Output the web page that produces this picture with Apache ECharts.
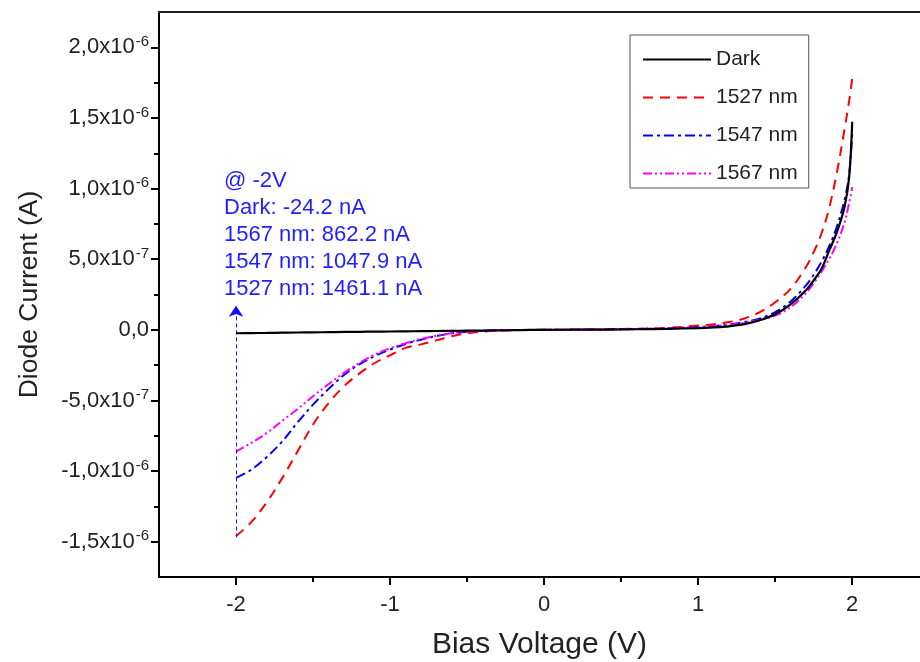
<!DOCTYPE html>
<html>
<head>
<meta charset="utf-8">
<script src="https://cdn.jsdelivr.net/npm/echarts@6/dist/echarts.min.js"></script>
<style>
html,body{margin:0;padding:0;background:#fff;}
#chart{width:920px;height:662px;}
</style>
</head>
<body>
<div id="chart"></div>
<script>
// Bias voltage (V)
const voltage = [-2, -1.9, -1.8, -1.7, -1.6, -1.5, -1.4, -1.3, -1.2, -1.1, -1.0, -0.9, -0.8, -0.7, -0.6, -0.5, -0.4, -0.3, -0.2, -0.1, 0, 0.2, 0.4, 0.6, 0.8, 1.0, 1.1, 1.2, 1.3, 1.4, 1.5, 1.6, 1.7, 1.75, 1.8, 1.85, 1.9, 1.95, 1.98, 2.0];
// Diode current in microamperes (1e-6 A)
const darkCurrent = [-0.0242, -0.023, -0.022, -0.0205, -0.019, -0.018, -0.0165, -0.015, -0.014, -0.013, -0.012, -0.011, -0.0095, -0.0085, -0.007, -0.006, -0.005, -0.0035, -0.0025, -0.001, 0, 0.001, 0.002, 0.004, 0.007, 0.012, 0.017, 0.025, 0.04, 0.068, 0.11, 0.18, 0.28, 0.35, 0.43, 0.56, 0.69, 0.87, 1.08, 1.473];
const current1527 = [-1.461, -1.36, -1.22, -1.05, -0.86, -0.67, -0.52, -0.40, -0.31, -0.235, -0.18, -0.128, -0.103, -0.075, -0.045, -0.025, -0.013, -0.006, -0.003, -0.001, 0, 0.002, 0.004, 0.008, 0.014, 0.03, 0.04, 0.055, 0.08, 0.125, 0.195, 0.29, 0.445, 0.55, 0.68, 0.86, 1.11, 1.42, 1.62, 1.78];
const current1547 = [-1.048, -0.99, -0.90, -0.79, -0.655, -0.53, -0.42, -0.32, -0.245, -0.185, -0.14, -0.10, -0.07, -0.045, -0.025, -0.014, -0.008, -0.004, -0.002, -0.001, 0, 0.001, 0.003, 0.006, 0.01, 0.02, 0.027, 0.038, 0.055, 0.08, 0.125, 0.20, 0.315, 0.39, 0.48, 0.59, 0.73, 0.92, 1.10, 1.40];
const current1567 = [-0.862, -0.80, -0.73, -0.645, -0.56, -0.47, -0.385, -0.305, -0.235, -0.175, -0.13, -0.095, -0.065, -0.042, -0.025, -0.014, -0.008, -0.004, -0.002, -0.001, 0, 0.001, 0.003, 0.005, 0.009, 0.018, 0.025, 0.035, 0.05, 0.07, 0.10, 0.16, 0.26, 0.33, 0.41, 0.50, 0.61, 0.76, 0.90, 1.01];
const seriesNames = ['Dark', '1527 nm', '1547 nm', '1567 nm'];
// Tick values
const xMajorTicks = [-2, -1, 0, 1, 2];
const xMinorTicks = [-1.5, -0.5, 0.5, 1.5];
const yMajorTicks = [-1.5, -1.0, -0.5, 0, 0.5, 1.0, 1.5, 2.0];
const yMinorTicks = [-1.25, -0.75, -0.25, 0.25, 0.75, 1.25, 1.75];
// Annotation
const annotationLines = ['@ -2V', 'Dark: -24.2 nA', '1567 nm: 862.2 nA', '1547 nm: 1047.9 nA', '1527 nm: 1461.1 nA'];
const arrowFrom = [-2, -1.47];
const arrowTo = [-2, 0.17];

const FONT = '"Liberation Sans", Arial, sans-serif';
const xMin = -2.5, xMax = 2.44, yMin = -1.75, yMax = 2.25;

function zip(xs, ys) { return xs.map((x, i) => [x, ys[i]]); }

function yFmt(v) {
  if (Math.abs(v) < 1e-9) return '{b|0,0}';
  const A = v * 1e-6;
  const e = Math.floor(Math.log10(Math.abs(A)) + 1e-9);
  const m = A / Math.pow(10, e);
  return '{b|' + m.toFixed(1).replace('.', ',') + 'x10}{s|' + e + '}';
}

const chart = echarts.init(document.getElementById('chart'), null, {renderer: 'canvas'});

const lineBase = {type: 'line', showSymbol: false, symbol: 'none', smooth: 0.35, xAxisIndex: 0, yAxisIndex: 0};

const option = {
  backgroundColor: '#fff',
  animation: false,
  grid: {left: 159, right: 0, top: 12, bottom: 85, containLabel: false, outerBoundsMode: 'none'},
  legend: {
    orient: 'vertical', left: 630, top: 35,
    padding: [14, 11, 4, 12],
    itemWidth: 68, itemHeight: 14, itemGap: 17,
    borderColor: '#555', borderWidth: 1, backgroundColor: '#fff',
    itemStyle: {opacity: 0},
    textStyle: {fontSize: 21, color: '#222', fontFamily: FONT},
    data: seriesNames
  },
  xAxis: [
    {
      type: 'value', min: xMin, max: xMax, position: 'bottom',
      axisLine: {show: true, onZero: false, lineStyle: {color: '#000', width: 2}},
      axisTick: {show: true, length: 8, customValues: xMajorTicks, lineStyle: {color: '#000', width: 2}},
      axisLabel: {customValues: xMajorTicks, fontSize: 22, color: '#222', fontFamily: FONT, margin: 17},
      splitLine: {show: false},
      name: 'Bias Voltage (V)', nameLocation: 'middle', nameGap: 53,
      nameTextStyle: {fontSize: 30, color: '#222', fontFamily: FONT}
    },
    {
      type: 'value', min: xMin, max: xMax, position: 'bottom',
      axisLine: {show: false, onZero: false},
      axisTick: {show: true, length: 5, customValues: xMinorTicks, lineStyle: {color: '#000', width: 2}},
      axisLabel: {show: false}, splitLine: {show: false}
    },
    {
      type: 'value', min: xMin, max: xMax, position: 'top',
      axisLine: {show: true, onZero: false, lineStyle: {color: '#222', width: 2}},
      axisTick: {show: false}, axisLabel: {show: false}, splitLine: {show: false}
    }
  ],
  yAxis: [
    {
      type: 'value', min: yMin, max: yMax, position: 'left',
      axisLine: {show: true, onZero: false, lineStyle: {color: '#000', width: 2}},
      axisTick: {show: true, length: 8, customValues: yMajorTicks, lineStyle: {color: '#000', width: 2}},
      axisLabel: {
        customValues: yMajorTicks, margin: 10, formatter: yFmt,
        rich: {
          b: {fontSize: 22, color: '#222', fontFamily: FONT},
          s: {fontSize: 15, color: '#222', fontFamily: FONT, verticalAlign: 'bottom', padding: [0, 0, 11, 1]}
        }
      },
      splitLine: {show: false},
      name: 'Diode Current (A)', nameLocation: 'middle', nameGap: 116,
      nameTextStyle: {fontSize: 26.5, color: '#222', fontFamily: FONT}
    },
    {
      type: 'value', min: yMin, max: yMax, position: 'left',
      axisLine: {show: false, onZero: false},
      axisTick: {show: true, length: 5, customValues: yMinorTicks, lineStyle: {color: '#000', width: 2}},
      axisLabel: {show: false}, splitLine: {show: false}
    }
  ],
  series: [
    Object.assign({}, lineBase, {
      name: seriesNames[0], data: zip(voltage, darkCurrent), z: 5,
      lineStyle: {color: '#000', width: 2.2, type: 'solid'}, itemStyle: {color: '#000'},
      markLine: {
        silent: true, symbol: ['none', 'arrow'], symbolSize: 11,
        label: {show: false},
        lineStyle: {color: '#1010ff', width: 1, type: [4, 3]},
        data: [[{coord: arrowFrom}, {coord: arrowTo}]]
      }
    }),
    Object.assign({}, lineBase, {
      name: seriesNames[1], data: zip(voltage, current1527),
      lineStyle: {color: '#ff0000', width: 2, type: [10, 7]}, itemStyle: {color: '#ff0000'}
    }),
    Object.assign({}, lineBase, {
      name: seriesNames[2], data: zip(voltage, current1547),
      lineStyle: {color: '#0000ff', width: 2, type: [10, 4, 3, 4]}, itemStyle: {color: '#0000ff'}
    }),
    Object.assign({}, lineBase, {
      name: seriesNames[3], data: zip(voltage, current1567),
      lineStyle: {color: '#ff00ff', width: 2, type: [9, 3, 2, 3, 2, 3]}, itemStyle: {color: '#ff00ff'}
    })
  ],
  graphic: [{
    type: 'text', left: 224, top: 167, z: 100,
    style: {
      text: annotationLines.join('\n'),
      font: '22px ' + FONT, fill: '#1f1fff', lineHeight: 27
    }
  }]
};
chart.setOption(option);
</script>
</body>
</html>
